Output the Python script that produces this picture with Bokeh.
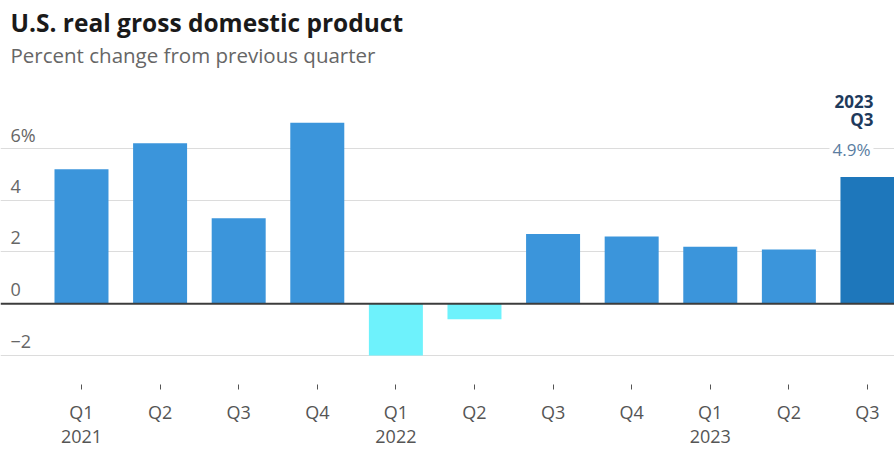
from bokeh.plotting import figure
from bokeh.models import (ColumnDataSource, Range1d, Span, Label, FixedTicker,
                          LinearAxis, Grid)
from bokeh.embed import file_html
from bokeh.resources import INLINE
from bokeh.core.properties import value

# ---- data ----
quarters = ["Q1", "Q2", "Q3", "Q4", "Q1", "Q2", "Q3", "Q4", "Q1", "Q2", "Q3"]
years = ["2021", "", "", "", "2022", "", "", "", "2023", "", ""]
gdp = [5.2, 6.2, 3.3, 7.0, -2.0, -0.6, 2.7, 2.6, 2.2, 2.1, 4.9]
y_ticks = [-2, 0, 2, 4, 6]
y_tick_labels = ["\u22122", "0", "2", "4", "6%"]
title = "U.S. real gross domestic product"
subtitle = "Percent change from previous quarter"

FONT = "Open Sans"
BLUE = "#3b95db"
CYAN = "#6ef2fc"
DARK = "#1e77bb"

n = len(gdp)
idx = list(range(n))
colors = [DARK if i == n - 1 else (CYAN if v < 0 else BLUE) for i, v in zip(idx, gdp)]

FW, FH = 894, 384
x_start, x_end = -1.0305, 10.344
y_start, y_end = -3.121, 11.72

p = figure(frame_width=FW, frame_height=FH, output_backend="svg",
           toolbar_location=None, x_range=Range1d(x_start, x_end),
           y_range=Range1d(y_start, y_end), min_border=0,
           x_axis_type=None, y_axis_type=None)
p.outline_line_color = None
p.background_fill_color = "white"
p.border_fill_color = "white"

p.xgrid.visible = False
p.ygrid.visible = False
grid_ticks = [t for t in y_ticks if t != 0]
p.add_layout(Grid(dimension=1, ticker=FixedTicker(ticks=grid_ticks),
                  grid_line_color="#dcdcdc", grid_line_width=1))

src = ColumnDataSource(dict(x=idx, top=gdp, color=colors))
p.vbar(x="x", top="top", bottom=0, width=0.687, fill_color="color",
       line_color=None, source=src)

p.add_layout(Span(location=0, dimension="width", line_color="#3c3c3c",
                  line_width=2))

# y tick labels inside plot
ysrc = ColumnDataSource(dict(x=[x_start] * len(y_ticks), y=y_ticks,
                             t=y_tick_labels))
p.text(x="x", y="y", text="t", source=ysrc, x_offset=10, y_offset=-14,
       text_font=value(FONT), text_font_size="18px", text_color="#666666",
       text_baseline="middle", text_align="left")

# x axis
xaxis = LinearAxis(ticker=FixedTicker(ticks=idx))
xaxis.major_label_overrides = {i: (q + ("\n" + y if y else ""))
                               for i, q, y in zip(idx, quarters, years)}
xaxis.axis_line_color = None
xaxis.major_tick_in = 0
xaxis.major_tick_out = 5
xaxis.major_tick_line_color = "#555555"
xaxis.major_tick_line_width = 1
xaxis.minor_tick_line_color = None
xaxis.major_label_standoff = 10
xaxis.major_label_text_font = FONT
xaxis.major_label_text_font_size = "18px"
xaxis.major_label_text_color = "#555555"
xaxis.major_label_text_line_height = 1.02
p.add_layout(xaxis, "below")

# annotation for latest value
last = n - 1
p.add_layout(Label(x=last, y=gdp[last], x_offset=6, y_offset=27,
                   text=f"{gdp[last]}%", text_font=FONT, text_font_size="17px",
                   text_color="#5a7da1", text_align="right",
                   text_baseline="middle", background_fill_color="white",
                   padding=3))
p.add_layout(Label(x=last, y=gdp[last], x_offset=6, y_offset=57,
                   text=quarters[last], text_font=FONT, text_font_size="17px",
                   text_font_style="bold", text_color="#1e3a5c",
                   text_align="right", text_baseline="middle"))
p.add_layout(Label(x=last, y=gdp[last], x_offset=6, y_offset=75,
                   text="2023", text_font=FONT, text_font_size="17px",
                   text_font_style="bold", text_color="#1e3a5c",
                   text_align="right", text_baseline="middle"))

# title / subtitle
p.add_layout(Label(x=10, y=FH - 21.5, x_units="screen", y_units="screen",
                   text=title, text_font=FONT, text_font_size="24.5px",
                   text_font_style="bold", text_color="#1a1a1a",
                   text_baseline="middle"))
p.add_layout(Label(x=10, y=FH - 54, x_units="screen", y_units="screen",
                   text=subtitle, text_font=FONT, text_font_size="20.5px",
                   text_color="#666666", text_baseline="middle"))

open("out.html", "w").write(file_html(p, INLINE))
